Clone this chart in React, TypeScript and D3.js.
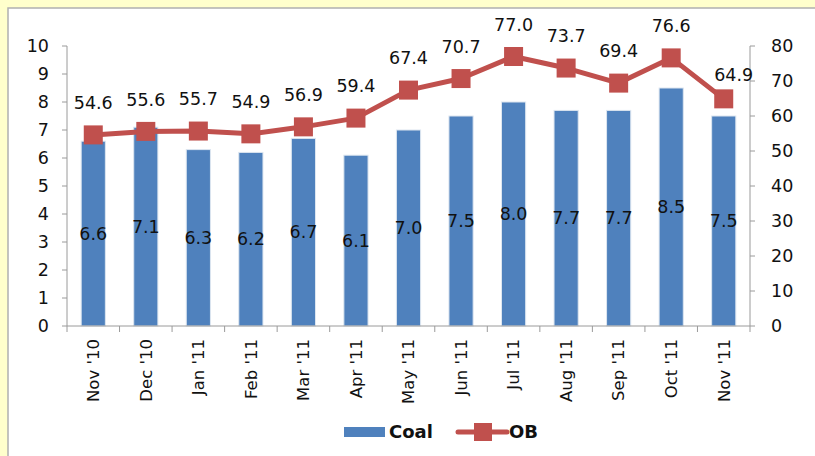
import React from "react";
import * as d3 from "d3";

const months = ["Nov '10", "Dec '10", "Jan '11", "Feb '11", "Mar '11", "Apr '11", "May '11", "Jun '11", "Jul '11", "Aug '11", "Sep '11", "Oct '11", "Nov '11"];
const coal = [6.6, 7.1, 6.3, 6.2, 6.7, 6.1, 7.0, 7.5, 8.0, 7.7, 7.7, 8.5, 7.5];
const ob = [54.6, 55.6, 55.7, 54.9, 56.9, 59.4, 67.4, 70.7, 77.0, 73.7, 69.4, 76.6, 64.9];
const leftTicks = [0, 1, 2, 3, 4, 5, 6, 7, 8, 9, 10];
const rightTicks = [0, 10, 20, 30, 40, 50, 60, 70, 80];

const W = 815;
const H = 456;
const FONT = "'DejaVu Sans', sans-serif";
const BLUE = "#4F81BD";
const RED = "#C0504D";
const AXIS = "#9a9a9a";
const NUM = 17.5;

const plot = { left: 67, right: 750, top: 46, bottom: 326 };

export default function App() {
    const x = d3.scaleBand().domain(months).range([plot.left, plot.right]).paddingInner(0.54).paddingOuter(0.27);
    const band = d3.scaleBand().domain(months).range([plot.left, plot.right]);
    const yL = d3.scaleLinear().domain([0, 10]).range([plot.bottom, plot.top]);
    const yR = d3.scaleLinear().domain([0, 80]).range([plot.bottom, plot.top]);
    const cx = (m: string) => (band(m) as number) + band.bandwidth() / 2;

    const line = d3
        .line<number>()
        .x((d, i) => cx(months[i]))
        .y(d => yR(d));

    const mk = 19;

    return (
        <svg width={W} height={H} style={{ position: "absolute", left: 0, top: 0, display: "block" }}>
            <rect x={0} y={0} width={W} height={H} fill="#FFFFCC" />
            <rect x={8} y={8} width={W} height={H} fill="#ffffff" stroke="#b0b0b0" strokeWidth={1.5} />

            {/* bars */}
            {coal.map((v, i) => (
                <rect
                    key={"b" + i}
                    x={x(months[i])}
                    y={yL(v)}
                    width={x.bandwidth()}
                    height={yL(0) - yL(v)}
                    fill={BLUE}
                    stroke="#dde6f0"
                    strokeWidth={1}
                />
            ))}

            {/* left axis */}
            <line x1={plot.left} x2={plot.left} y1={plot.top} y2={plot.bottom} stroke={AXIS} />
            {leftTicks.map(t => (
                <g key={"l" + t}>
                    <line x1={plot.left - 5} x2={plot.left} y1={yL(t)} y2={yL(t)} stroke={AXIS} />
                    <text x={49} y={yL(t)} dy="0.35em" textAnchor="end" fontFamily={FONT} fontSize={NUM} fill="#111">
                        {t}
                    </text>
                </g>
            ))}

            {/* right axis */}
            <line x1={plot.right} x2={plot.right} y1={plot.top} y2={plot.bottom} stroke={AXIS} />
            {rightTicks.map(t => (
                <g key={"r" + t}>
                    <line x1={plot.right} x2={plot.right + 5} y1={yR(t)} y2={yR(t)} stroke={AXIS} />
                    <text x={771} y={yR(t)} dy="0.35em" textAnchor="start" fontFamily={FONT} fontSize={NUM} fill="#111">
                        {t}
                    </text>
                </g>
            ))}

            {/* x axis */}
            <line x1={plot.left} x2={plot.right} y1={plot.bottom} y2={plot.bottom} stroke={AXIS} />
            {months.map(m => (
                <line key={"t" + m} x1={band(m)} x2={band(m)} y1={plot.bottom} y2={plot.bottom + 6} stroke={AXIS} />
            ))}
            <line x1={plot.right} x2={plot.right} y1={plot.bottom} y2={plot.bottom + 6} stroke={AXIS} />
            {months.map(m => (
                <text
                    key={"xl" + m}
                    transform={`translate(${cx(m)},${plot.bottom + 13}) rotate(-90)`}
                    textAnchor="end"
                    dy="0.35em"
                    fontFamily={FONT}
                    fontSize={16.5}
                    fill="#111"
                >
                    {m}
                </text>
            ))}

            {/* bar labels */}
            {coal.map((v, i) => (
                <text
                    key={"bl" + i}
                    x={cx(months[i])}
                    y={(yL(v) + yL(0)) / 2}
                    dy="0.35em"
                    textAnchor="middle"
                    fontFamily={FONT}
                    fontSize={NUM}
                    fill="#111"
                >
                    {v.toFixed(1)}
                </text>
            ))}

            {/* OB line */}
            <path d={line(ob) as string} fill="none" stroke={RED} strokeWidth={5} strokeLinejoin="round" />
            {ob.map((v, i) => (
                <rect key={"m" + i} x={cx(months[i]) - mk / 2} y={yR(v) - mk / 2} width={mk} height={mk} fill={RED} />
            ))}
            {ob.map((v, i) => {
                const last = i === ob.length - 1;
                return (
                    <text
                        key={"ol" + i}
                        x={cx(months[i]) + (last ? 10 : 0)}
                        y={yR(v) - (last ? 24 : 32)}
                        dy="0.35em"
                        textAnchor="middle"
                        fontFamily={FONT}
                        fontSize={NUM}
                        fill="#111"
                    >
                        {v.toFixed(1)}
                    </text>
                );
            })}

            {/* legend */}
            <rect x={344} y={427} width={41} height={10} fill={BLUE} />
            <text x={389} y={432} dy="0.35em" fontFamily={FONT} fontWeight="bold" fontSize={18} fill="#111">
                Coal
            </text>
            <line x1={458} x2={507} y1={432} y2={432} stroke={RED} strokeWidth={5} strokeLinecap="round" />
            <rect x={483 - 9} y={432 - 9} width={18} height={18} fill={RED} />
            <text x={509} y={432} dy="0.35em" fontFamily={FONT} fontWeight="bold" fontSize={18} fill="#111">
                OB
            </text>
        </svg>
    );
}
